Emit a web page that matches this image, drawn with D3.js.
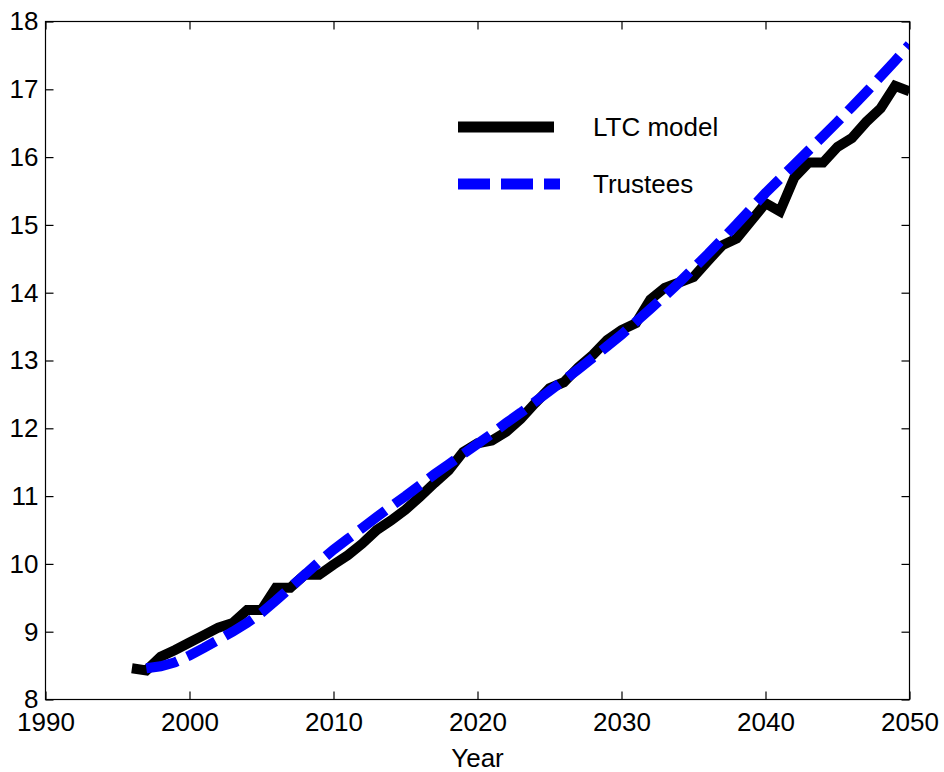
<!DOCTYPE html>
<html>
<head>
<meta charset="utf-8">
<script src="https://cdn.jsdelivr.net/npm/d3@7"></script>
<style>
  html, body { margin: 0; padding: 0; background: #fff; }
  svg { display: block; }
  text { font-family: "Liberation Sans", Arial, sans-serif; fill: #000; }
</style>
</head>
<body>
<svg id="chart" width="944" height="772"></svg>
<script>
const years = d3.range(1996, 2051);
const ltcModel = [8.46, 8.43, 8.63, 8.73, 8.84, 8.95, 9.06, 9.13, 9.32, 9.32,
  9.65, 9.65, 9.84, 9.84, 9.99, 10.13, 10.30, 10.50, 10.64, 10.80,
  10.99, 11.19, 11.38, 11.65, 11.78, 11.82, 11.95, 12.14, 12.37, 12.59,
  12.68, 12.90, 13.08, 13.30, 13.45, 13.55, 13.90, 14.07, 14.15, 14.23,
  14.47, 14.70, 14.80, 15.06, 15.32, 15.20, 15.70, 15.92, 15.92, 16.15,
  16.28, 16.52, 16.72, 17.05, 16.97];
const trusteesYears = d3.range(1997, 2051);
const trustees = [8.46, 8.49, 8.55, 8.65, 8.76, 8.88, 9.00, 9.13, 9.28,
  9.46, 9.65, 9.84, 10.03, 10.21, 10.37, 10.53, 10.69, 10.85, 11.00,
  11.16, 11.32, 11.47, 11.62, 11.77, 11.92, 12.08, 12.23, 12.39, 12.55,
  12.71, 12.87, 13.04, 13.21, 13.38, 13.57, 13.76, 13.95, 14.15, 14.36,
  14.57, 14.79, 15.01, 15.24, 15.47, 15.68, 15.89, 16.10, 16.31, 16.52,
  16.74, 16.96, 17.19, 17.42, 17.66];
const xTicks = [1990, 2000, 2010, 2020, 2030, 2040, 2050];
const yTicks = [8, 9, 10, 11, 12, 13, 14, 15, 16, 17, 18];
const seriesNames = ["LTC model", "Trustees"];
const xLabel = "Year";

const svg = d3.select("#chart");
const L = 45.5, R = 909.5, T = 21.5, B = 699.5;
const x = d3.scaleLinear().domain([1990, 2050]).range([L, R]);
const y = d3.scaleLinear().domain([8, 18]).range([B, T]);

const fs = 26;
const tickLen = 8;

// lines
const line = d3.line().x(d => x(d[0])).y(d => y(d[1]));
svg.append("defs").append("clipPath").attr("id", "clip")
  .append("rect").attr("x", L).attr("y", T - 10).attr("width", R - L).attr("height", B - T + 10);

const g = svg.append("g").attr("clip-path", "url(#clip)");
g.append("path")
  .datum(years.map((yr, i) => [yr, ltcModel[i]]))
  .attr("d", line)
  .attr("fill", "none").attr("stroke", "#000").attr("stroke-width", 10)
  .attr("stroke-linejoin", "miter").attr("stroke-miterlimit", 4);
g.append("path")
  .datum(trusteesYears.map((yr, i) => [yr, trustees[i]]))
  .attr("d", line)
  .attr("fill", "none").attr("stroke", "#0000ff").attr("stroke-width", 10)
  .attr("stroke-dasharray", "32 11");

// box & ticks
const axes = svg.append("g");
axes.append("rect").attr("x", L).attr("y", T).attr("width", R - L).attr("height", B - T)
  .attr("fill", "none").attr("stroke", "#000").attr("stroke-width", 1.2);

const xb = axes.append("g").attr("transform", `translate(0,${B})`)
  .call(d3.axisBottom(x).tickValues(xTicks).tickFormat(d3.format("d")).tickSizeInner(-tickLen).tickSizeOuter(0).tickPadding(10));
const xt = axes.append("g").attr("transform", `translate(0,${T})`)
  .call(d3.axisTop(x).tickValues(xTicks).tickFormat("").tickSizeInner(-tickLen).tickSizeOuter(0));
const yl = axes.append("g").attr("transform", `translate(${L},0)`)
  .call(d3.axisLeft(y).tickValues(yTicks).tickFormat(d3.format("d")).tickSizeInner(-tickLen).tickSizeOuter(0).tickPadding(8));
const yr = axes.append("g").attr("transform", `translate(${R},0)`)
  .call(d3.axisRight(y).tickValues(yTicks).tickFormat("").tickSizeInner(-tickLen).tickSizeOuter(0));

[xb, xt, yl, yr].forEach(a => {
  a.select(".domain").remove();
  a.selectAll(".tick line").attr("stroke", "#000").attr("stroke-width", 1.2);
  a.selectAll(".tick text").style("font-size", fs + "px").style("font-family", '"Liberation Sans", Arial, sans-serif').attr("fill", "#000");
});
xb.selectAll(".tick text").attr("dy", "0.71em").attr("y", 13);
yl.selectAll(".tick text").attr("x", -7);

svg.append("text").attr("x", (L + R) / 2).attr("y", 767).attr("text-anchor", "middle")
  .style("font-size", fs + "px").text(xLabel);

// legend
const leg = svg.append("g");
const legY = [127, 184];
leg.append("line").attr("x1", 458).attr("x2", 554).attr("y1", legY[0]).attr("y2", legY[0])
  .attr("stroke", "#000").attr("stroke-width", 11);
leg.append("line").attr("x1", 458).attr("x2", 560).attr("y1", legY[1]).attr("y2", legY[1])
  .attr("stroke", "#0000ff").attr("stroke-width", 11).attr("stroke-dasharray", "32 11");
seriesNames.forEach((n, i) => {
  leg.append("text").attr("x", 593).attr("y", legY[i] + 9).style("font-size", fs + "px").text(n);
});
</script>
</body>
</html>
